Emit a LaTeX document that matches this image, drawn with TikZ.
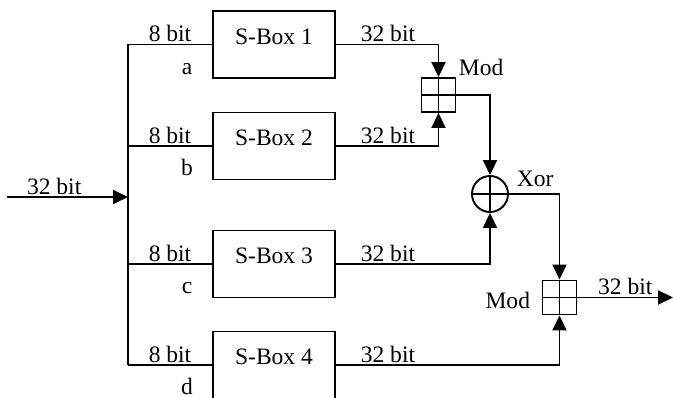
\documentclass[tikz,border=0pt]{standalone}
\usepackage{fontspec}
\setmainfont{Liberation Serif}
\usetikzlibrary{arrows.meta}

\begin{document}
\begin{tikzpicture}[x=0.02cm, y=-0.02cm,
        line width=1.1pt,
        every node/.style={font=\fontsize{13.4}{16}\selectfont},
        sbox/.style={draw, minimum width=2.44cm, minimum height=1.34cm, inner sep=0pt},
        modbox/.style={draw, minimum size=0.68cm, inner sep=0pt,
            path picture={\draw (path picture bounding box.north) -- (path picture bounding box.south)
                (path picture bounding box.west) -- (path picture bounding box.east);}},
        xorgate/.style={draw, circle, minimum size=0.72cm, inner sep=0pt,
            path picture={\draw (path picture bounding box.north) -- (path picture bounding box.south)
                (path picture bounding box.west) -- (path picture bounding box.east);}},
        oplabel/.style={inner sep=0pt},
        arr/.style={-{Triangle[length=0.3cm, width=0.28cm]}}
    ]

        \useasboundingbox (0,0) rectangle (673,398);

        %----- INPUT BUS -----
        \coordinate (bus) at (128,0);
        \coordinate (inbegin) at (7,197);
        \draw[arr] (inbegin) -- (inbegin -| bus)
            node[pos=0.39, above, inner sep=1pt] (inlbl) {32 bit};

        %----- FOUR S-BOXES -----
        \foreach \i/\y/\l in {1/44.5/a, 2/146/b, 3/264/c, 4/365/d} {
            \node[sbox] (sbox\i) at (274,\y) {};
            \node[anchor=base] (sname\i) at (sbox\i.center) {S-Box \i};
            \draw (sbox\i.west -| bus) -- (sbox\i.west)
                node[midway, above, inner sep=1pt] (bits\i) {8 bit};
            \node[anchor=base, inner sep=0pt] (part\i) at (187,{\y+30}) {\l};
            \node[above, inner sep=1pt] (outbits\i) at ([xshift=1.04cm]sbox\i.east) {32 bit};
        }
        \draw (sbox1.west -| bus) -- (sbox4.west -| bus);

        %----- MOD AND XOR -----
        \node[modbox] (mod1) at (438.5,95) {};
        \node[oplabel, anchor=base west] (modlbl1) at (458,76) {Mod};
        \node[xorgate] (xor) at (490,194) {};
        \node[oplabel, anchor=base west] (xorlbl) at (516,187) {Xor};
        \node[modbox] (mod2) at (559.5,297.5) {};
        \node[oplabel, anchor=base east] (modlbl2) at (531,309) {Mod};

        \draw[arr] (sbox1.east) -| (mod1.north);
        \draw[arr] (sbox2.east) -| (mod1.south);
        \draw[arr] (mod1.east) -| (xor.north);
        \draw[arr] (sbox3.east) -| (xor.south);
        \draw[arr] (xor.east) -| (mod2.north);
        \draw[arr] (sbox4.east) -| (mod2.south);

        %----- OUTPUT -----
        \coordinate (outend) at (673,297.5);
        \draw[arr] (mod2.east) -- (outend)
            node[midway, above, inner sep=1pt] (outlbl) {32 bit};

    \end{tikzpicture}
\end{document}
